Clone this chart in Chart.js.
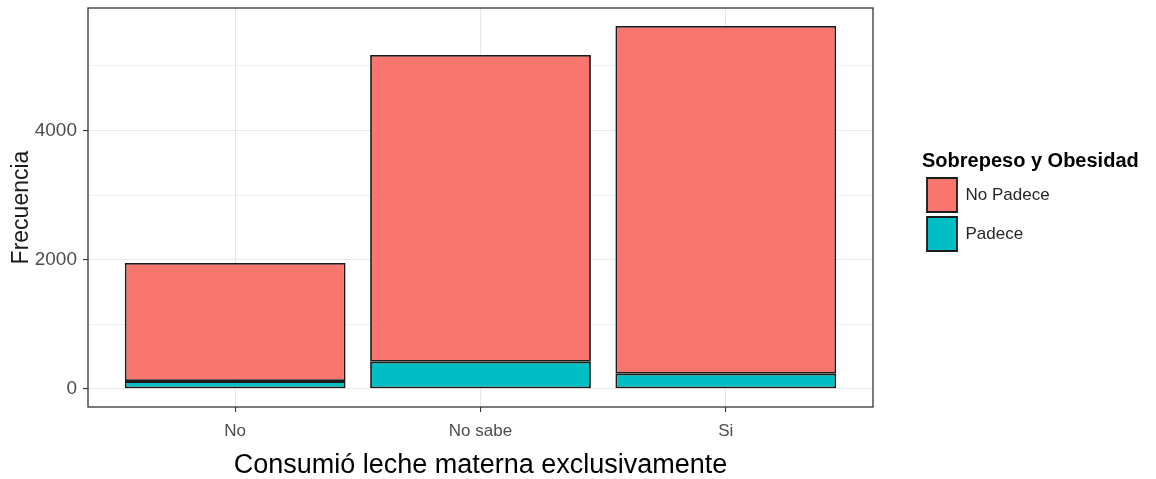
<!DOCTYPE html>
<html>
<head>
<meta charset="utf-8">
<script src="https://cdn.jsdelivr.net/npm/chart.js@4.4.1/dist/chart.umd.min.js"></script>
<style>
  html, body { margin: 0; padding: 0; background: #fff; }
  #wrap { width: 1156px; height: 479px; position: relative; }
</style>
</head>
<body>
<div id="wrap"><canvas id="obesityChart"></canvas></div>
<script>
const categories = ['No', 'No sabe', 'Si'];
const padece = [120, 420, 235];
const noPadece = [1830, 4750, 5385];
const yTicks = [0, 1000, 2000, 3000, 4000, 5000];

const FONT = "'Liberation Sans', Arial, sans-serif";

// ggplot-style panel border on all four sides
const panelBorder = {
  id: 'panelBorder',
  afterDraw(chart) {
    const a = chart.chartArea;
    const c = chart.ctx;
    c.save();
    c.strokeStyle = '#333333';
    c.lineWidth = 1.3;
    c.strokeRect(a.left, a.top, a.right - a.left, a.bottom - a.top);
    c.restore();
  }
};

// legend box must be as wide as its title, otherwise the title gets clipped
const wideLegend = {
  id: 'wideLegend',
  beforeLayout(chart) {
    const lg = chart.legend;
    if (lg && !lg._wide) {
      const fit = lg.fit;
      lg.fit = function () {
        fit.call(this);
        this.width = 230;
      };
      lg._wide = true;
    }
  }
};

const noPad = s => { s.paddingTop = 0; s.paddingBottom = 0; s.paddingLeft = 0; s.paddingRight = 0; };

const ctx = document.getElementById('obesityChart').getContext('2d');
const obesityChart = new Chart(ctx, {
  type: 'bar',
  data: {
    datasets: [{
      label: 'Padece',
      data: padece.map((v, i) => ({ x: i + 1, y: v })),
      backgroundColor: '#00BFC4',
      borderColor: '#1a1a1a',
      borderWidth: 1.8,
      borderSkipped: false
    }, {
      label: 'No Padece',
      data: noPadece.map((v, i) => ({ x: i + 1, y: v })),
      backgroundColor: '#F8766D',
      borderColor: '#1a1a1a',
      borderWidth: 1.8,
      borderSkipped: false
    }]
  },
  options: {
    responsive: true,
    maintainAspectRatio: false,
    animation: false,
    categoryPercentage: 1,
    barPercentage: 0.9,
    layout: {
      padding: { left: 0, right: 4, top: 8, bottom: 0 }
    },
    plugins: {
      tooltip: { enabled: false },
      legend: {
        position: 'right',
        fullSize: false,
        reverse: true,
        title: {
          display: true,
          text: 'Sobrepeso y Obesidad',
          position: 'start',
          color: '#000',
          font: { family: FONT, size: 20, weight: 'bold', lineHeight: 1.1 },
          padding: { top: -8, bottom: 0 }
        },
        labels: {
          boxWidth: 30,
          boxHeight: 34,
          padding: 5,
          color: '#262626',
          font: { family: FONT, size: 17 }
        }
      }
    },
    scales: {
      x: {
        type: 'linear',
        min: 0.4,
        max: 3.6,
        offset: false,
        stacked: true,
        afterBuildTicks: s => { s.ticks = categories.map((c, i) => ({ value: i + 1 })); },
        afterFit: s => { s.height = 72; noPad(s); },
        grid: {
          offset: false,
          color: '#e6e6e6',
          lineWidth: 1.1,
          tickLength: 5,
          tickColor: '#333333'
        },
        border: { display: false },
        ticks: {
          padding: 9,
          color: '#4d4d4d',
          font: { family: FONT, size: 17 },
          callback: v => categories[v - 1]
        },
        title: {
          display: true,
          text: 'Consumió leche materna exclusivamente',
          color: '#000',
          font: { family: FONT, size: 27, lineHeight: 1.0 },
          padding: { top: 0, bottom: 0 }
        }
      },
      y: {
        stacked: true,
        min: -281,
        max: 5898,
        afterBuildTicks: s => { s.ticks = yTicks.map(v => ({ value: v })); },
        afterFit: s => { s.width = 88; noPad(s); },
        grid: {
          color: '#e9e9e9',
          lineWidth: c => (c.tick && c.tick.value % 2000 === 0) ? 1.1 : 0.7,
          tickLength: 5,
          tickColor: c => (c.tick && c.tick.value % 2000 === 0) ? '#333333' : 'rgba(0,0,0,0)'
        },
        border: { display: false },
        ticks: {
          padding: 6,
          color: '#4d4d4d',
          font: { family: FONT, size: 19 },
          callback: v => (v % 2000 === 0 ? String(v) : '')
        },
        title: {
          display: true,
          text: 'Frecuencia',
          color: '#1a1a1a',
          font: { family: FONT, size: 23, lineHeight: 1.2 },
          padding: { top: 8, bottom: 0 }
        }
      },
      gap: {
        type: 'linear',
        position: 'right',
        display: true,
        afterFit: s => { s.width = 49; noPad(s); },
        grid: { display: false },
        border: { display: false },
        ticks: { display: false }
      }
    }
  },
  plugins: [panelBorder, wideLegend]
});
</script>
</body>
</html>
